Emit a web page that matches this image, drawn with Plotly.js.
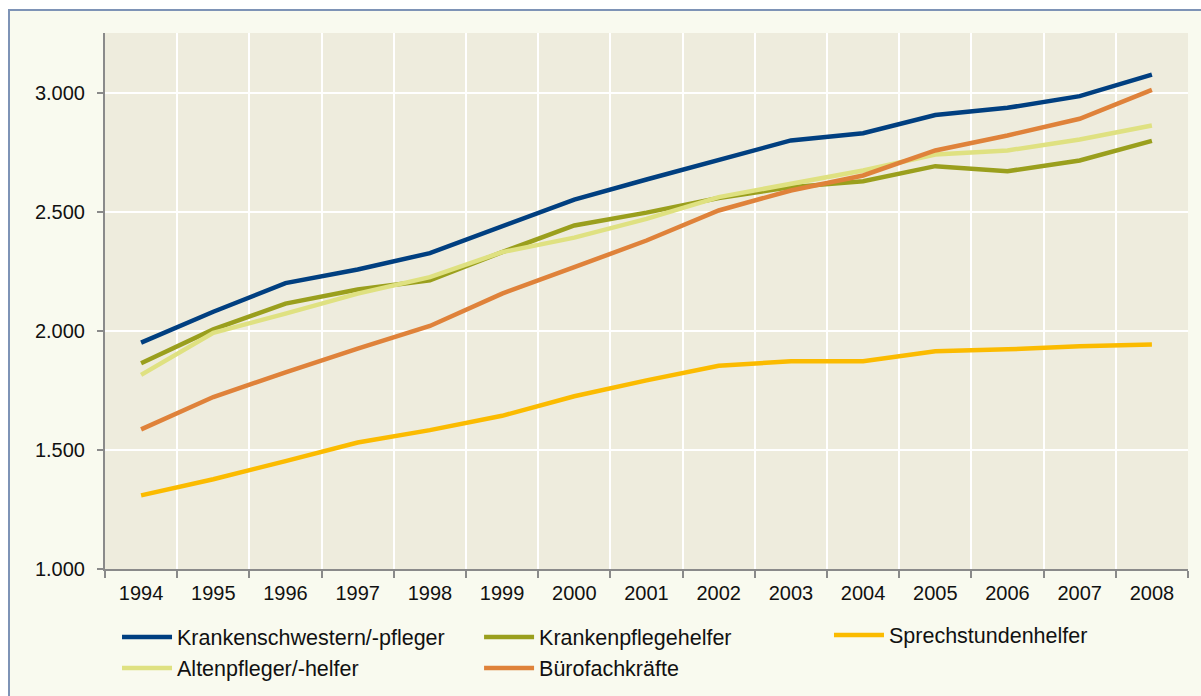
<!DOCTYPE html>
<html>
<head>
<meta charset="utf-8">
<script src="https://cdn.plot.ly/plotly-3.0.1.min.js"></script>
<style>
  html, body { margin: 0; padding: 0; background: #ffffff; overflow: hidden; }
  #frame { position: absolute; left: 8px; top: 9px; width: 1193px; height: 687px;
           border-left: 2px solid #7e93b6; border-top: 2px solid #7e93b6; background: #f9faef; }
  #chart { width: 1191px; height: 685px; }
</style>
</head>
<body>
<div id="frame"><div id="chart"></div></div>
<script>
const years = ["1994","1995","1996","1997","1998","1999","2000","2001","2002","2003","2004","2005","2006","2007","2008"];

const krankenschwestern   = [1950, 2080, 2200, 2257, 2326, 2440, 2551, 2635, 2718, 2799, 2829, 2906, 2936, 2985, 3075];
const krankenpflegehelfer = [1864, 2006, 2114, 2173, 2212, 2330, 2442, 2496, 2557, 2603, 2628, 2691, 2670, 2715, 2797];
const sprechstundenhelfer = [1309, 1377, 1453, 1531, 1583, 1643, 1725, 1792, 1853, 1872, 1872, 1914, 1922, 1935, 1942];
const altenpfleger        = [1815, 1991, 2072, 2156, 2225, 2330, 2391, 2470, 2561, 2617, 2673, 2740, 2757, 2803, 2862];
const buerofachkraefte    = [1586, 1722, 1825, 1925, 2020, 2156, 2267, 2379, 2505, 2589, 2652, 2757, 2820, 2890, 3011];

const seriesNames = ["Krankenschwestern/-pfleger", "Krankenpflegehelfer", "Sprechstundenhelfer", "Altenpfleger/-helfer", "Bürofachkräfte"];
const seriesValues = [krankenschwestern, krankenpflegehelfer, sprechstundenhelfer, altenpfleger, buerofachkraefte];
const seriesColors = ["#003f80", "#9a9f1d", "#fbbb00", "#dfe181", "#df823a"];
const seriesLegend = ["legend", "legend2", "legend3", "legend", "legend2"];

const traces = seriesNames.map((name, i) => ({
  type: "scatter", mode: "lines", name: name,
  x: years, y: seriesValues[i],
  line: { color: seriesColors[i], width: 4.5 },
  legend: seriesLegend[i],
  legendgroup: "g" + i,
  hoverinfo: "x+y+name"
}));

const font = { family: "Liberation Sans, Arial, sans-serif", size: 20, color: "#111111" };
const legendFont = { family: "Liberation Sans, Arial, sans-serif", size: 21.5, color: "#111111" };
const legendCommon = {
  orientation: "v", xanchor: "left", yanchor: "middle",
  xref: "paper", yref: "container",
  bgcolor: "rgba(0,0,0,0)", font: legendFont,
  itemwidth: 50, tracegroupgap: 6, traceorder: "normal",
  itemclick: false, itemdoubleclick: false
};

const layout = {
  width: 1191, height: 685,
  margin: { l: 95, r: 13, t: 22, b: 127 },
  paper_bgcolor: "#f9faef",
  plot_bgcolor: "#eeecdd",
  font: font,
  separators: ",.",
  showlegend: true,
  xaxis: {
    type: "category", range: [-0.5, 14.5],
    tickson: "boundaries",
    showgrid: true, gridcolor: "#ffffff", gridwidth: 2,
    ticks: "outside", ticklen: 7, tickwidth: 2, tickcolor: "#8a8a8a",
    ticklabelstandoff: 5,
    showline: true, linecolor: "#8a8a8a", linewidth: 2,
    tickfont: font, fixedrange: true
  },
  yaxis: {
    range: [1000, 3250], dtick: 500, tick0: 1000,
    tickformat: ",d",
    showgrid: true, gridcolor: "#ffffff", gridwidth: 2,
    zeroline: false,
    ticks: "outside", ticklen: 6, tickwidth: 2, tickcolor: "#8a8a8a",
    ticklabelstandoff: 8,
    showline: true, linecolor: "#8a8a8a", linewidth: 2,
    tickfont: font, fixedrange: true
  },
  legend:  Object.assign({}, legendCommon, { x: 0.0111, y: 0.0635 }),
  legend2: Object.assign({}, legendCommon, { x: 0.3454, y: 0.0635 }),
  legend3: Object.assign({}, legendCommon, { x: 0.6685, y: 0.089 })
};

Plotly.newPlot("chart", traces, layout, { displayModeBar: false });
</script>
</body>
</html>
